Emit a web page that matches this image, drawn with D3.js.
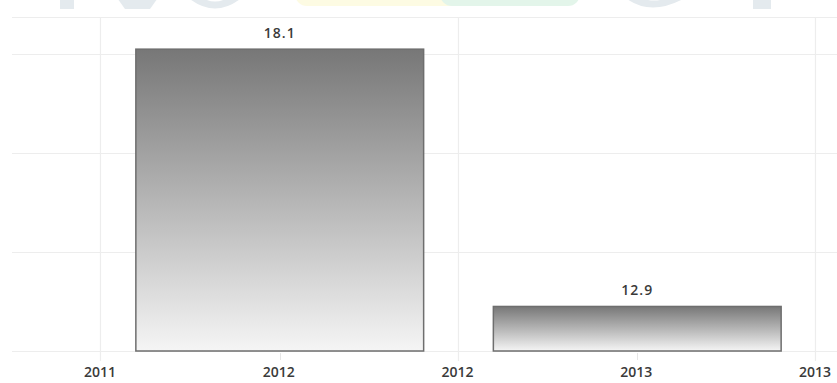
<!DOCTYPE html>
<html><head><meta charset="utf-8">
<script src="https://cdn.jsdelivr.net/npm/d3@7"></script>
<style>html,body{margin:0;padding:0;background:#fff;}svg{display:block;}</style>
</head><body>
<div id="chart"></div>
<script>
const categories = ["2012", "2013"];
const values = [18.1, 12.9];
const categoryIndex = [1, 3];
const tickLabels = ["2011", "2012", "2012", "2013", "2013"];
const gridValues = [12, 14, 16, 18];

const W = 837, H = 383;
const svg = d3.select("#chart").append("svg").attr("width", W).attr("height", H);

// faint watermark at top (cropped)
const wm = svg.append("g");
wm.append("rect").attr("x", 295).attr("y", -20).attr("width", 170).attr("height", 26).attr("rx", 12).attr("fill", "#fdfbe3");
wm.append("rect").attr("x", 440).attr("y", -20).attr("width", 140).attr("height", 26).attr("rx", 12).attr("fill", "#e3f5ea");
wm.append("rect").attr("x", 60).attr("y", -5).attr("width", 14).attr("height", 14).attr("fill", "#e4eaee");
wm.append("path").attr("d", "M115,-5 L160,-5 L150,9 L125,9 Z").attr("fill", "#e4eaee");
wm.append("path").attr("d", "M185,-5 Q215,22 245,-5 L232,-5 Q215,8 198,-5 Z").attr("fill", "#e4eaee");
wm.append("path").attr("d", "M622,-5 Q650,20 690,-5 L676,-5 Q652,6 636,-5 Z").attr("fill", "#e4eaee");
wm.append("rect").attr("x", 753).attr("y", -5).attr("width", 18).attr("height", 14).attr("fill", "#e4eaee");

const x = d3.scaleLinear().domain([0, 4]).range([100, 815]);
const y = d3.scaleLinear().domain([12, 18.75]).range([351, 17]);
const unit = x(1) - x(0);
const barW = unit * 1.61;

// horizontal grid
svg.append("g").selectAll("line").data(gridValues.concat([18.75])).join("line")
  .attr("x1", 12).attr("x2", W)
  .attr("y1", d => Math.round(y(d)) + 0.5).attr("y2", d => Math.round(y(d)) + 0.5)
  .attr("stroke", "#ededed").attr("stroke-width", 1);

// vertical grid at year boundaries
svg.append("g").selectAll("line").data([0, 2, 4]).join("line")
  .attr("x1", d => Math.round(x(d)) + 0.5).attr("x2", d => Math.round(x(d)) + 0.5)
  .attr("y1", y(18.75)).attr("y2", 361)
  .attr("stroke", "#ededed").attr("stroke-width", 1.2);

// small ticks at bar centres
svg.append("g").selectAll("line").data(categoryIndex).join("line")
  .attr("x1", d => Math.round(x(d)) + 1.5).attr("x2", d => Math.round(x(d)) + 1.5)
  .attr("y1", 353).attr("y2", 360)
  .attr("stroke", "#e6e6e6").attr("stroke-width", 1);

// gradient
const defs = svg.append("defs");
const grad = defs.append("linearGradient").attr("id", "barGrad")
  .attr("x1", 0).attr("y1", 0).attr("x2", 0).attr("y2", 1);
grad.append("stop").attr("offset", "0%").attr("stop-color", "#777777");
grad.append("stop").attr("offset", "50%").attr("stop-color", "#b5b5b5");
grad.append("stop").attr("offset", "100%").attr("stop-color", "#f5f5f5");

const bars = svg.append("g");
bars.selectAll("rect").data(values).join("rect")
  .attr("x", (d, i) => x(categoryIndex[i]) - barW / 2 + 1)
  .attr("y", d => y(d))
  .attr("width", barW)
  .attr("height", d => y(12) - y(d))
  .attr("fill", "url(#barGrad)")
  .attr("stroke", "#6e6e6e").attr("stroke-width", 1.5);

// value labels
svg.append("g").selectAll("text").data(values).join("text")
  .attr("x", (d, i) => x(categoryIndex[i]) + 1)
  .attr("y", d => y(d) - 11)
  .attr("text-anchor", "middle")
  .attr("font-family", "'Open Sans', 'DejaVu Sans', sans-serif")
  .attr("font-size", 14).attr("font-weight", 600).attr("fill", "#3a3a3a")
  .attr("letter-spacing", 1)
  .text(d => d.toFixed(1));

// x axis labels
svg.append("g").selectAll("text").data(tickLabels).join("text")
  .attr("x", (d, i) => x(i))
  .attr("y", 377)
  .attr("text-anchor", "middle")
  .attr("font-family", "'Open Sans', 'DejaVu Sans', sans-serif")
  .attr("font-size", 14).attr("font-weight", 600).attr("fill", "#3a3a3a")
  .text(d => d);
</script>
</body></html>
